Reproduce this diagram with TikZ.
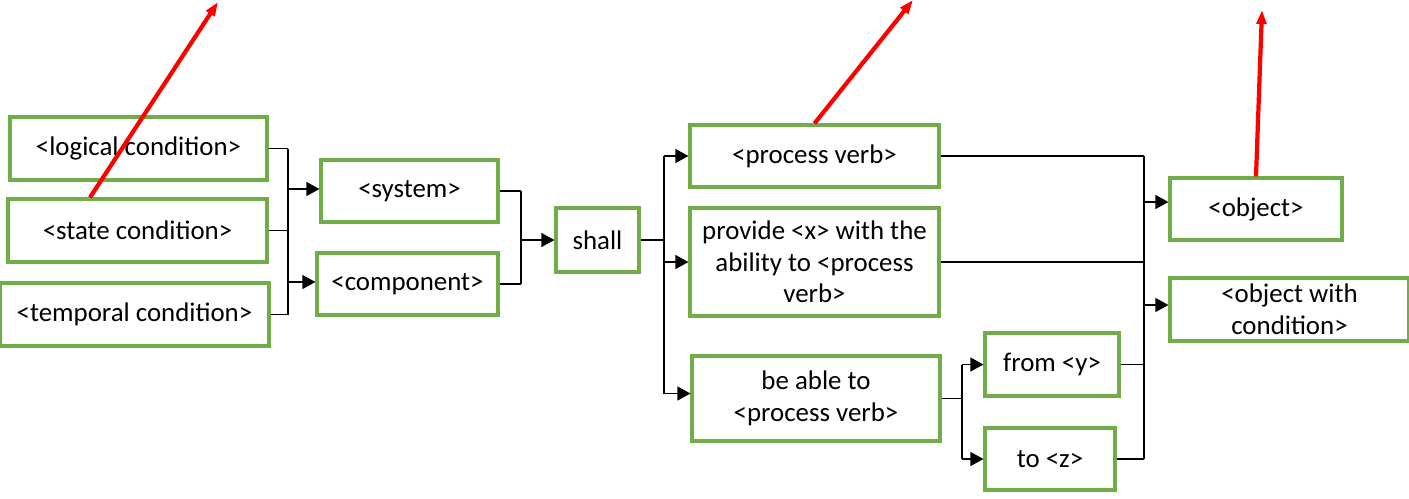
\documentclass[tikz,border=0pt]{standalone}
\usepackage{fontspec}
\setmainfont{Carlito}
\usetikzlibrary{arrows.meta,positioning,calc}
\definecolor{mygreen}{RGB}{112,173,71}
\definecolor{myred}{RGB}{255,0,0}
\tikzset{
  box/.style={rectangle,draw=mygreen,line width=1.8pt,fill=white,align=center,
    inner sep=2pt,font=\fontsize{15.3}{18}\selectfont},
  bus/.style={line width=0.75pt,color=black},
  flow/.style={-{Triangle[length=7.5pt,width=8pt]},line width=0.9pt,color=black},
  hint/.style={-{Triangle[length=8pt,width=5.5pt]},line width=2.4pt,color=myred},
}

\begin{document}
\begin{tikzpicture}[x=0.02cm,y=-0.02cm]
  \useasboundingbox (0,0) rectangle (1409,498);
  % conditions
  \node[box,minimum width=51.4mm,minimum height=12.6mm] (logical) at (138.5,148.5) {<logical condition>};
  \node[box,minimum width=51.8mm,minimum height=12.6mm] (state) at (137.5,230.5) {<state condition>};
  \node[box,minimum width=53.8mm,minimum height=12.6mm] (temporal) at (134.5,314.5) {<temporal condition>};
  % subject
  \node[box,minimum width=35.4mm,minimum height=12.4mm] (system) at (409.5,191) {<system>};
  \node[box,minimum width=36.2mm,minimum height=12.4mm] (component) at (407.5,284) {<component>};
  \node[box,minimum width=16.6mm,minimum height=12.8mm] (shall) at (597.5,240) {shall};
  % process
  \node[box,minimum width=49.8mm,minimum height=12.4mm] (process) at (814.5,156) {<process verb>};
  \node[box,minimum width=49.8mm,minimum height=21.6mm] (provide) at (814.5,262) {provide <x> with the\\ability to <process\\verb>};
  \node[box,minimum width=49.6mm,minimum height=17mm] (able) at (816,398.5) {be able to\\<process verb>};
  \node[box,minimum width=26.8mm,minimum height=12.6mm] (from) at (1052,364.5) {from <y>};
  \node[box,minimum width=26mm,minimum height=12.4mm] (to) at (1050,459) {to <z>};
  % objects
  \node[box,minimum width=34.4mm,minimum height=12.4mm] (object) at (1256,209) {<object>};
  \node[box,minimum width=47.8mm,minimum height=12.6mm] (objcond) at (1289.5,309.5) {<object with\\condition>};

  % buses
  \coordinate (b1) at (288,0);
  \coordinate (b2) at (521,0);
  \coordinate (b3) at (664,0);
  \coordinate (b4) at (962,0);
  \coordinate (b5) at (1144,0);
  \draw[bus] (logical.east) -- (logical.east -| b1); \draw[bus] (state.east) -- (state.east -| b1);
  \draw[bus] (temporal.east) -- (temporal.east -| b1); \draw[bus] (logical.east -| b1) -- (temporal.east -| b1);
  \draw[flow] ([yshift=0.04cm]system.west -| b1) -- ([yshift=0.04cm]system.west);
  \draw[flow] ([yshift=0.04cm]component.west -| b1) -- ([yshift=0.04cm]component.west);
  \draw[bus] (system.east) -- (system.east -| b2); \draw[bus] (component.east) -- (component.east -| b2);
  \draw[bus] (system.east -| b2) -- (component.east -| b2);
  \draw[flow] (shall.west -| b2) -- (shall.west);
  \draw[bus] (shall.east) -- (shall.east -| b3); \draw[bus] (process.west -| b3) -- ([yshift=0.1cm]able.west -| b3);
  \draw[flow] (process.west -| b3) -- (process.west); \draw[flow] (provide.west -| b3) -- (provide.west);
  \draw[flow] ([yshift=0.1cm]able.west -| b3) -- ([yshift=0.1cm]able.west);
  \draw[bus] (able.east) -- (able.east -| b4); \draw[bus] (from.west -| b4) -- (to.west -| b4);
  \draw[flow] (from.west -| b4) -- (from.west); \draw[flow] (to.west -| b4) -- (to.west);
  \draw[bus] (process.east) -- (process.east -| b5); \draw[bus] (provide.east) -- (provide.east -| b5);
  \draw[bus] (from.east) -- (from.east -| b5); \draw[bus] (to.east) -- (to.east -| b5);
  \draw[bus] (process.east -| b5) -- (to.east -| b5);
  \draw[flow] ([yshift=0.14cm]object.west -| b5) -- ([yshift=0.14cm]object.west);
  \draw[flow] ([yshift=0.09cm]objcond.west -| b5) -- ([yshift=0.09cm]objcond.west);

  % red hints
  \coordinate (r1) at (218,2);
  \coordinate (r2) at (913,0);
  \coordinate (r3) at (1262,10);
  \draw[hint] ([xshift=-0.95cm]state.north) -- (r1);
  \draw[hint] (process.north) -- (r2);
  \draw[hint] (object.north) -- (r3);
\end{tikzpicture}
\end{document}
